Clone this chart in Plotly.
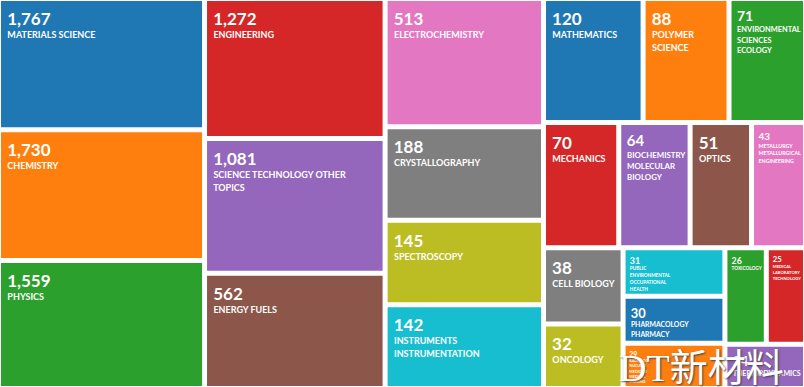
import textwrap
import numpy as np
import plotly.graph_objects as go

# Web of Science research areas and record counts
categories = [
    "MATERIALS SCIENCE", "CHEMISTRY", "PHYSICS", "ENGINEERING",
    "SCIENCE TECHNOLOGY OTHER TOPICS", "ENERGY FUELS", "ELECTROCHEMISTRY",
    "CRYSTALLOGRAPHY", "SPECTROSCOPY", "INSTRUMENTS INSTRUMENTATION",
    "MATHEMATICS", "POLYMER SCIENCE", "ENVIRONMENTAL SCIENCES ECOLOGY",
    "MECHANICS", "BIOCHEMISTRY MOLECULAR BIOLOGY", "OPTICS",
    "METALLURGY METALLURGICAL ENGINEERING", "CELL BIOLOGY", "ONCOLOGY",
    "PUBLIC ENVIRONMENTAL OCCUPATIONAL HEALTH", "PHARMACOLOGY PHARMACY",
    "RADIOLOGY NUCLEAR MEDICINE MEDICAL IMAGING", "TOXICOLOGY",
    "MEDICAL LABORATORY TECHNOLOGY", "THERMODYNAMICS",
]
counts = [1767, 1730, 1559, 1272, 1081, 562, 513, 188, 145, 142,
          120, 88, 71, 70, 64, 51, 43, 38, 32, 31, 30, 29, 26, 25, 24]

watermark = "DT新材料"

# Tile areas on a log scale (as in the Web of Science treemap)
LOG_FLOOR = 12.5
sizes = np.log(np.array(counts, dtype=float) / LOG_FLOOR)

PALETTE = ["#1f77b4", "#ff7f0e", "#2ca02c", "#d62728", "#9467bd",
           "#8c564b", "#e377c2", "#7f7f7f", "#bcbd22", "#17becf"]
colors = [PALETTE[i % len(PALETTE)] for i in range(len(categories))]

NB = "\u00a0"


def wrap(name, count):
    width = 24 if count >= 140 else 12
    lines = textwrap.wrap(name, width, break_long_words=False)
    return "<br>".join(f"<span style='font-size:9px'>{NB}{NB}{ln}</span>"
                       for ln in lines)


texts = [f"<span style='font-size:9px'>{NB}</span><br>"
         f"<span style='font-size:17px'>{NB}{c:,}</span><br>{wrap(n, c)}"
         for n, c in zip(categories, counts)]

fig = go.Figure(go.Treemap(
    labels=categories,
    parents=[""] * len(categories),
    values=sizes,
    text=texts,
    texttemplate="%{text}",
    textposition="top left",
    textfont=dict(family="Lato", size=10, color="white", weight="bold"),
    marker=dict(colors=colors, line=dict(width=2, color="white"),
                pad=dict(t=0, l=0, r=0, b=0)),
    tiling=dict(packing="squarify", squarifyratio=1.618),
    pathbar=dict(visible=False),
    sort=True,
    hoverinfo="skip",
))

fig.add_annotation(
    text=watermark, xref="paper", yref="paper", x=0.768, y=0,
    xanchor="left", yanchor="bottom", yshift=-4, showarrow=False,
    font=dict(family="Liberation Serif, Noto Sans CJK SC", size=38,
              color="white", shadow="1px 1px 2px #444"),
)

fig.update_layout(
    width=804, height=387,
    margin=dict(l=0, r=0, t=0, b=0),
    paper_bgcolor="white",
)

fig.write_html("out.html",
               config={"staticPlot": True, "displayModeBar": False},
               post_script="document.body.style.margin='0';")
